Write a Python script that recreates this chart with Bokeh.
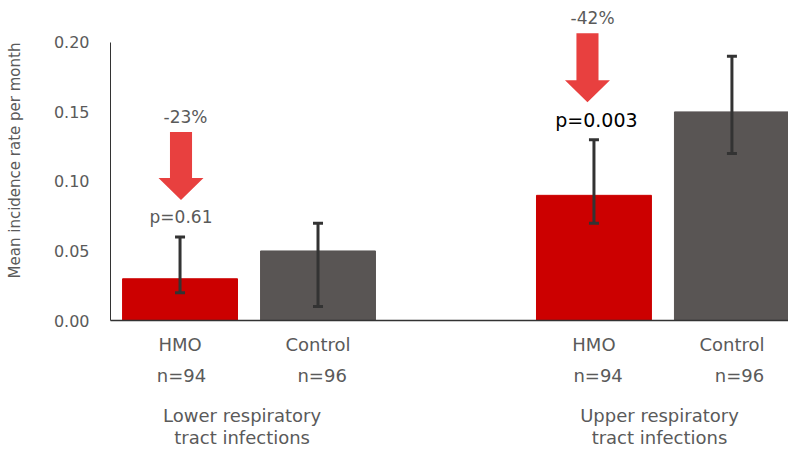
from bokeh.plotting import figure
from bokeh.models import (ColumnDataSource, Whisker, TeeHead, Label, NumeralTickFormatter,
                          FixedTicker, LinearAxis)
from bokeh.embed import file_html
from bokeh.resources import INLINE

# ---- data ----
groups = ["HMO", "Control", "HMO", "Control"]
sizes = ["n=94", "n=96", "n=94", "n=96"]
xpos = [0, 1, 3, 4]
means = [0.03, 0.05, 0.09, 0.15]
lower = [0.02, 0.01, 0.07, 0.12]
upper = [0.06, 0.07, 0.13, 0.19]
colors = ["#CC0000", "#595554", "#CC0000", "#595554"]
infection_types = ["Lower respiratory\ntract infections", "Upper respiratory\ntract infections"]
reductions = ["-23%", "-42%"]
pvalues = ["p=0.61", "p=0.003"]
y_ticks = [0.0, 0.05, 0.10, 0.15, 0.20]

FONT = "DejaVu Sans"
GREY = "#5a5a5a"

p = figure(width=788, height=450, output_backend="svg", toolbar_location=None,
           x_range=(-0.504, 4.41), y_range=(0, 0.2301), x_axis_location=None,
           min_border_left=110, min_border_right=0, min_border_top=0, min_border_bottom=0)
p.outline_line_color = None
p.grid.grid_line_color = None

src = ColumnDataSource(dict(x=xpos, top=means, lo=lower, hi=upper, color=colors))
p.vbar(x="x", top="top", bottom=0, width=0.833, color="color", source=src)

w = Whisker(base="x", lower="lo", upper="hi", source=src, line_color="#333333", line_width=3,
            level="overlay",
            lower_head=TeeHead(size=10, line_color="#333333", line_width=3),
            upper_head=TeeHead(size=10, line_color="#333333", line_width=3))
p.add_layout(w)

# y axis
p.yaxis.ticker = FixedTicker(ticks=y_ticks)
p.yaxis.formatter = NumeralTickFormatter(format="0.00")
p.yaxis.bounds = (0, 0.2)
p.yaxis.major_tick_line_color = None
p.yaxis.minor_tick_line_color = None
p.yaxis.axis_line_color = "#333333"
p.yaxis.major_label_standoff = 15
p.yaxis.major_label_text_font = FONT
p.yaxis.major_label_text_font_size = "16px"
p.yaxis.major_label_text_color = GREY
p.yaxis.axis_label = "Mean incidence rate per month"
p.yaxis.axis_label_text_font = FONT
p.yaxis.axis_label_text_font_style = "normal"
p.yaxis.axis_label_text_font_size = "15px"
p.yaxis.axis_label_text_color = GREY
p.yaxis.axis_label_standoff = 27


def bottom_axis(ticks, labels, standoff, line=False, line_height=1.2):
    ax = LinearAxis(ticker=FixedTicker(ticks=ticks),
                    major_label_overrides={t: l for t, l in zip(ticks, labels)})
    ax.major_tick_in = 0
    ax.major_tick_out = 0
    ax.minor_tick_line_color = None
    ax.major_tick_line_color = None
    ax.axis_line_color = "#333333" if line else None
    ax.axis_line_width = 1.5
    ax.major_label_standoff = standoff
    ax.major_label_text_font = FONT
    ax.major_label_text_font_size = "18px"
    ax.major_label_text_color = GREY
    ax.major_label_text_line_height = line_height
    p.add_layout(ax, "below")
    return ax


bottom_axis([float(x) for x in xpos], groups, 13, line=True)
n_off = [0.01, 0.03, 0.03, 0.055]
bottom_axis([x + o for x, o in zip(xpos, n_off)], sizes, 7)
grp_x = [(xpos[0] + xpos[1]) / 2 - 0.05, (xpos[2] + xpos[3]) / 2 - 0.025]
bottom_axis(grp_x, infection_types, 16, line_height=1.05)

# arrows + annotations
hmo_x = [xpos[0], xpos[2]]
arrow_dx = [0.007, -0.047]
arrow_top = [0.1355, 0.2065]
arrow_neck = [0.1025, 0.1728]
arrow_tip = [0.0867, 0.157]
shaft_hw = 0.08
head_hw = 0.163
pct_dx = [0.04, -0.01]
p_dx = [0.007, 0.018]
p_size = ["17px", "19px"]
p_col = [GREY, "#000000"]
for i in range(2):
    cx = hmo_x[i] + arrow_dx[i]
    xs = [cx - shaft_hw, cx + shaft_hw, cx + shaft_hw, cx + head_hw, cx, cx - head_hw, cx - shaft_hw]
    ys = [arrow_top[i], arrow_top[i], arrow_neck[i], arrow_neck[i], arrow_tip[i], arrow_neck[i], arrow_neck[i]]
    p.patch(xs, ys, color="#E8403F", line_color=None)
    p.add_layout(Label(x=hmo_x[i] + pct_dx[i], y=arrow_top[i], y_offset=15, text=reductions[i],
                       text_align="center", text_baseline="middle", text_font=FONT,
                       text_font_size="17px", text_color=GREY))
    p.add_layout(Label(x=hmo_x[i] + p_dx[i], y=upper[2 * i], y_offset=20, text=pvalues[i],
                       text_align="center", text_baseline="middle", text_font=FONT,
                       text_font_size=p_size[i], text_color=p_col[i]))

open("out.html", "w").write(file_html(p, INLINE))
